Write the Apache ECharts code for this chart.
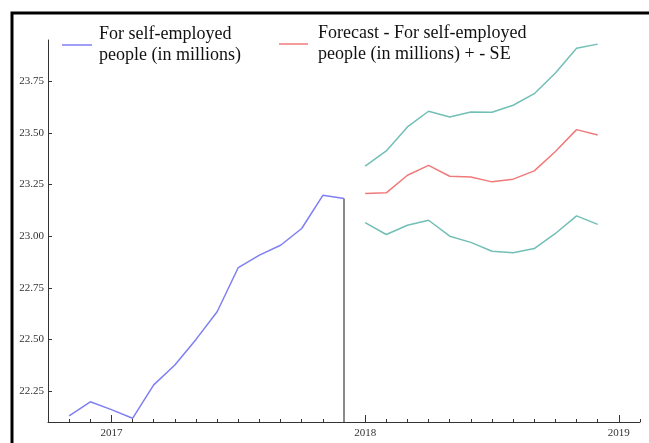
<!DOCTYPE html>
<html>
<head>
<meta charset="utf-8">
<script src="https://cdn.jsdelivr.net/npm/echarts@6/dist/echarts.min.js"></script>
<style>
  html, body { margin: 0; padding: 0; background: #fff; }
  #main { width: 649px; height: 443px; }
</style>
</head>
<body>
<div id="main"></div>
<script>
// monthly categories, Oct 2016 .. Feb 2019
var months = [
  '2016-10', '2016-11', '2016-12',
  '2017-01', '2017-02', '2017-03', '2017-04', '2017-05', '2017-06',
  '2017-07', '2017-08', '2017-09', '2017-10', '2017-11', '2017-12',
  '2018-01', '2018-02', '2018-03', '2018-04', '2018-05', '2018-06',
  '2018-07', '2018-08', '2018-09', '2018-10', '2018-11', '2018-12',
  '2019-01', '2019-02'
];
// actual values, Nov 2016 .. Dec 2017
var actualStart = '2016-11';
var actual = [22.13, 22.198, 22.16, 22.118, 22.28, 22.376, 22.50, 22.634,
  22.848, 22.908, 22.956, 23.037, 23.198, 23.182];
// forecast, Jan 2018 .. Dec 2018
var forecastStart = '2018-01';
var forecast = [23.207, 23.21, 23.295, 23.343, 23.29, 23.287, 23.263, 23.276,
  23.316, 23.41, 23.516, 23.49];
var upperSE = [23.339, 23.413, 23.529, 23.605, 23.577, 23.601, 23.60, 23.634,
  23.69, 23.79, 23.91, 23.93];
var lowerSE = [23.066, 23.008, 23.053, 23.077, 23.0, 22.97, 22.927, 22.92,
  22.94, 23.013, 23.098, 23.057];
var yTicks = [22.25, 22.5, 22.75, 23.0, 23.25, 23.5, 23.75];
var yMin = 22.1, yMax = 23.95;
var cutMonth = '2017-12';

var nameActual = 'For self-employed people (in millions)';
var nameForecast = 'Forecast - For self-employed people (in millions) + - SE';
var legendText = {};
legendText[nameActual] = 'For self-employed\npeople (in millions)';
legendText[nameForecast] = 'Forecast - For self-employed\npeople (in millions) + - SE';

function place(start, arr){
  var i0 = months.indexOf(start);
  return arr.map(function(v, i){ return [i0 + i, v]; });
}

var serif = 'Liberation Serif, Times New Roman, serif';
var cut = months.indexOf(cutMonth);

var myChart = echarts.init(document.getElementById('main'));
var option = {
  animation: false,
  backgroundColor: '#fff',
  grid: { left: 48, right: 9, top: 40, bottom: 21 },
  legend: [
    {
      data: [nameActual],
      left: 57, top: 19,
      icon: 'rect', itemWidth: 30, itemHeight: 1.5,
      formatter: function(n){ return legendText[n]; },
      textStyle: { fontFamily: serif, fontSize: 18, color: '#111', lineHeight: 21, padding: [0, 0, 0, 2] }
    },
    {
      data: [nameForecast],
      left: 274, top: 18,
      icon: 'rect', itemWidth: 29, itemHeight: 1.5,
      formatter: function(n){ return legendText[n]; },
      textStyle: { fontFamily: serif, fontSize: 18, color: '#111', lineHeight: 21, padding: [0, 0, 0, 5] }
    }
  ],
  xAxis: [
    {
      type: 'category',
      data: months,
      boundaryGap: false,
      axisLine: { lineStyle: { color: '#333', width: 1 } },
      axisTick: { inside: true, length: 3, interval: 0, lineStyle: { color: '#333' } },
      axisLabel: {
        interval: 0,
        margin: 6,
        fontFamily: serif, fontSize: 11, color: '#333',
        formatter: function(v){ return v.slice(5) === '01' ? v.slice(0, 4) : ''; }
      },
      splitLine: { show: false }
    },
    {
      type: 'category',
      data: months,
      boundaryGap: false,
      position: 'bottom',
      axisLine: { show: false },
      axisTick: {
        inside: true, length: 7,
        interval: function(i, v){ return v.slice(5) === '01'; },
        lineStyle: { color: '#333' }
      },
      axisLabel: { show: false },
      splitLine: { show: false }
    }
  ],
  yAxis: [
    {
      type: 'value',
      min: yMin, max: yMax, interval: 0.05,
      axisLine: { show: true, lineStyle: { color: '#333' } },
      axisTick: { length: 2, lineStyle: { color: '#555' } },
      axisLabel: {
        margin: 4,
        fontFamily: serif, fontSize: 11, color: '#333',
        formatter: function(v){
          for (var i = 0; i < yTicks.length; i++) {
            if (Math.abs(v - yTicks[i]) < 1e-6) return yTicks[i].toFixed(2);
          }
          return '';
        }
      },
      splitLine: { show: false }
    },
    {
      type: 'value',
      min: yMin, max: yMax, position: 'left',
      axisLine: { show: false },
      axisTick: { show: true, inside: true, length: 4, customValues: yTicks, lineStyle: { color: '#333' } },
      axisLabel: { show: false, customValues: yTicks },
      splitLine: { show: false }
    }
  ],
  series: [
    {
      name: nameActual, type: 'line', symbol: 'none',
      data: place(actualStart, actual),
      lineStyle: { color: '#7f7ff5', width: 1.5 },
      itemStyle: { color: '#7f7ff5' }
    },
    {
      name: 'cut', type: 'line', symbol: 'none',
      data: [[cut, yMin], [cut, actual[actual.length - 1]]],
      lineStyle: { color: '#8a8a8a', width: 2 }
    },
    {
      name: 'upper', type: 'line', symbol: 'none',
      data: place(forecastStart, upperSE),
      lineStyle: { color: '#72bfb7', width: 1.5 }
    },
    {
      name: nameForecast, type: 'line', symbol: 'none',
      data: place(forecastStart, forecast),
      lineStyle: { color: '#f07a7a', width: 1.5 },
      itemStyle: { color: '#f07a7a' }
    },
    {
      name: 'lower', type: 'line', symbol: 'none',
      data: place(forecastStart, lowerSE),
      lineStyle: { color: '#72bfb7', width: 1.5 }
    }
  ],
  graphic: [
    {
      type: 'rect', silent: true,
      shape: { x: 12, y: 13, width: 700, height: 500 },
      style: { fill: null, stroke: '#000', lineWidth: 3 }
    }
  ]
};
myChart.setOption(option);
</script>
</body>
</html>
